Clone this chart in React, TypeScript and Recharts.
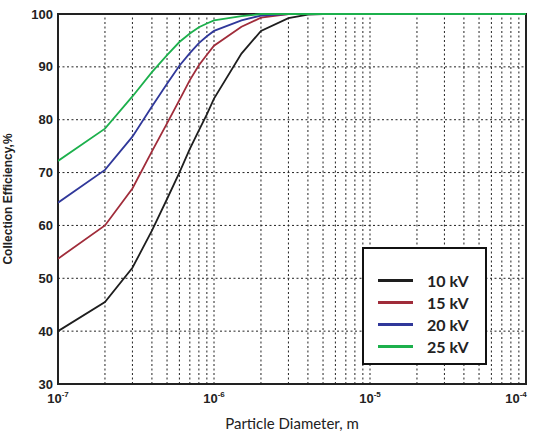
import { LineChart, Line, XAxis, YAxis, ReferenceLine, ReferenceArea, Label } from 'recharts';

// particle diameter samples (m)
const diameters = [1e-7, 2e-7, 3e-7, 4e-7, 5e-7, 6e-7, 7e-7, 8e-7, 9e-7, 1e-6, 1.5e-6, 2e-6, 3e-6, 4e-6, 5e-6, 1e-5, 1e-4];

// collection efficiency (%) per voltage
const eff10 = [40, 45.5, 52, 59, 65, 70, 74.5, 78, 81, 84, 92.5, 96.8, 99.2, 99.9, 100, 100, 100];
const eff15 = [53.7, 60, 67, 74, 79.3, 83.7, 87.5, 90.3, 92.3, 94, 97.6, 99.3, 100, 100, 100, 100, 100];
const eff20 = [64.3, 70.5, 76.8, 82.5, 86.8, 90.2, 92.6, 94.5, 95.8, 96.8, 98.8, 99.7, 100, 100, 100, 100, 100];
const eff25 = [72.2, 78.3, 84.4, 89, 92.2, 94.7, 96.3, 97.5, 98.2, 98.8, 99.6, 100, 100, 100, 100, 100, 100];

const xTicks = [1e-7, 1e-6, 1e-5, 1e-4];
const yTicks = [30, 40, 50, 60, 70, 80, 90, 100];
const yGrid = [40, 50, 60, 70, 80, 90];
const xGrid = [
  2e-7, 3e-7, 4e-7, 5e-7, 6e-7, 7e-7, 8e-7, 9e-7, 1e-6,
  2e-6, 3e-6, 4e-6, 5e-6, 6e-6, 7e-6, 8e-6, 9e-6, 1e-5,
  2e-5, 3e-5, 4e-5, 5e-5, 6e-5, 7e-5, 8e-5, 9e-5,
];

const series = [
  { key: 'v10', name: '10 kV', color: '#1e1e1e' },
  { key: 'v15', name: '15 kV', color: '#a02c3a' },
  { key: 'v20', name: '20 kV', color: '#30389a' },
  { key: 'v25', name: '25 kV', color: '#1cb04c' },
];

const data = diameters.map((d, i) => ({
  d,
  v10: eff10[i],
  v15: eff15[i],
  v20: eff20[i],
  v25: eff25[i],
}));

const PowerTick = (props: any) => {
  const { x, y, payload } = props;
  const exp = Math.round(Math.log10(payload.value));
  return (
    <text x={x} y={y + 19} textAnchor="middle" fontFamily="Liberation Sans, Arial" fontWeight="bold" fontSize={13} fill="#222">
      10
      <tspan dy={-6} fontSize={8}>{exp}</tspan>
    </text>
  );
};

const LegendBox = () => (
  <div style={{
    position: 'absolute', left: 362, top: 247,
    width: 125, height: 118, border: '2px solid #111', background: '#fff',
    boxSizing: 'border-box', paddingTop: 20,
  }}>
    {series.map((s) => (
      <div key={s.key} style={{ display: 'flex', alignItems: 'center', height: 22 }}>
        <div style={{ width: 35, height: 3, background: s.color, marginLeft: 14 }} />
        <span style={{
          marginLeft: 14, fontFamily: 'Lato, Open Sans', fontWeight: 'bold', fontSize: 16, color: '#222',
        }}>{s.name}</span>
      </div>
    ))}
  </div>
);

export default function App() {
  return (
    <div style={{ position: 'absolute', left: 0, top: 0, width: 538, height: 434, background: '#fff' }}>
      <LineChart width={538} height={434} data={data} margin={{ top: 14, right: 12, left: 0, bottom: 0 }}>
        <XAxis
          dataKey="d"
          type="number"
          scale="log"
          domain={[1e-7, 1e-4]}
          ticks={xTicks}
          tick={<PowerTick />}
          tickSize={0}
          tickMargin={0}
          axisLine={false}
          height={50}
          allowDataOverflow
        >
          <Label
            value="Particle Diameter, m"
            position="insideBottom"
            offset={5}
            style={{ fontFamily: 'Lato, Open Sans', fontSize: 15, fill: '#222' }}
          />
        </XAxis>
        <YAxis
          type="number"
          domain={[30, 100]}
          ticks={yTicks}
          tickSize={0}
          tickMargin={5}
          axisLine={false}
          width={58}
          tick={{ fontFamily: 'Liberation Sans, Arial', fontWeight: 'bold', fontSize: 13, fill: '#222' }}
        >
          <Label
            value="Collection Efficiency,%"
            angle={-90}
            position="insideLeft"
            offset={8}
            style={{ fontFamily: 'Liberation Sans, Arial', fontWeight: 'bold', fontSize: 12, fill: '#222', textAnchor: 'middle' }}
          />
        </YAxis>
        {yGrid.map((v) => (
          <ReferenceLine key={`y${v}`} y={v} stroke="#222" strokeDasharray="2 2.5" strokeWidth={1} />
        ))}
        {xGrid.map((v) => (
          <ReferenceLine key={`x${v}`} x={v} stroke="#222" strokeDasharray="2 2.5" strokeWidth={1} />
        ))}
        {series.map((s) => (
          <Line
            key={s.key}
            dataKey={s.key}
            name={s.name}
            stroke={s.color}
            strokeWidth={1.8}
            dot={false}
            isAnimationActive={false}
            type="linear"
          />
        ))}
        <ReferenceArea x1={1e-7} x2={1e-4} y1={30} y2={100} fill="none" stroke="#222" strokeWidth={2} ifOverflow="visible" />
      </LineChart>
      <LegendBox />
    </div>
  );
}
